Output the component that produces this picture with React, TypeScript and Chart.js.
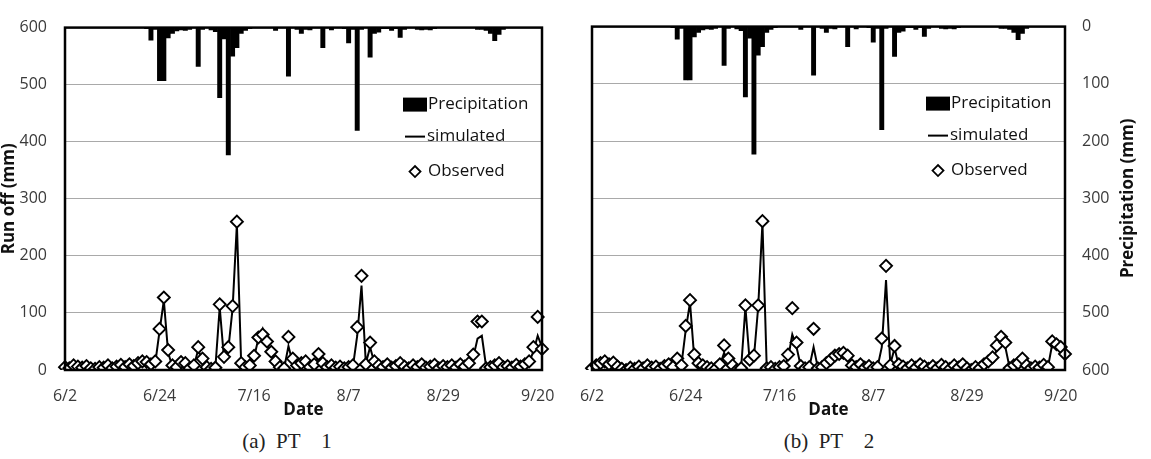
import React, { useEffect, useRef } from 'react';
import { Chart, registerables } from 'chart.js';

Chart.register(...registerables);

const FONT = '"Open Sans", "DejaVu Sans", sans-serif';

// Daily record from 2 June to 21 September
const dates: string[] = Array.from({ length: 112 }, (_, i) => {
  const d = new Date(2017, 5, 2 + i);
  return `${d.getMonth() + 1}/${d.getDate()}`;
});
const labelledDates = ['6/2', '6/24', '7/16', '8/7', '8/29', '9/20'];

// Daily precipitation (mm), shared by both plots
const precipitation = [
  0, 0, 0, 0, 0, 0, 0, 0, 0, 0,
  0, 0, 0, 0, 0, 0, 0, 0, 0, 2,
  22, 3, 93, 93, 18, 10, 6, 4, 5, 3,
  0, 68, 3, 0, 4, 7, 123, 20, 223, 50,
  35, 10, 5, 2, 0, 0, 0, 0, 0, 5,
  0, 0, 85, 0, 3, 10, 3, 4, 0, 0,
  35, 0, 4, 0, 0, 2, 27, 3, 180, 3,
  0, 52, 10, 8, 2, 2, 5, 2, 17, 3,
  0, 0, 3, 4, 3, 4, 2, 0, 0, 0,
  0, 0, 0, 0, 0, 0, 3, 3, 5, 10,
  23, 12, 3, 0, 0, 0, 0, 0, 0, 0,
  0, 0,
];

// PT 1 run off (mm)
const observedPT1 = [
  5, 3, 8, 6, 4, 7, 3, 2, 5, 4,
  8, 3, 6, 9, 5, 10, 7, 12, 15, 14,
  10, 15, 72, 127, 35, 8, 5, 14, 12, 3,
  8, 40, 20, 5, 2, 4, 115, 23, 40, 112,
  260, 12, 5, 8, 25, 57, 62, 50, 32, 15,
  5, 3, 58, 20, 8, 12, 15, 5, 10, 28,
  12, 5, 8, 4, 6, 3, 5, 8, 75, 165,
  10, 48, 15, 8, 5, 10, 4, 7, 12, 6,
  3, 8, 5, 10, 4, 6, 9, 3, 7, 5,
  8, 4, 10, 6, 12, 27, 85, 85, 3, 5,
  8, 12, 5, 7, 4, 9, 6, 10, 15, 40,
  93, 37,
];
const simulatedPT1 = [
  6, 4, 7, 5, 5, 6, 4, 3, 5, 5,
  7, 4, 6, 8, 6, 9, 8, 11, 13, 12,
  10, 12, 68, 122, 30, 6, 6, 12, 10, 4,
  7, 36, 16, 5, 3, 5, 110, 20, 36, 108,
  256, 10, 5, 8, 22, 55, 72, 45, 28, 12,
  5, 3, 42, 12, 6, 10, 12, 5, 9, 22,
  10, 5, 7, 4, 5, 3, 5, 6, 60, 148,
  12, 40, 12, 7, 5, 8, 4, 6, 10, 6,
  3, 7, 5, 8, 4, 6, 8, 3, 6, 5,
  7, 4, 9, 6, 10, 22, 55, 60, 6, 5,
  7, 10, 5, 6, 4, 8, 6, 9, 14, 32,
  60, 40,
];

// PT 2 run off (mm)
const observedPT2 = [
  3, 8, 12, 15, 10, 13, 6, 2, 0, 4,
  2, 6, 3, 8, 4, 6, 2, 7, 10, 5,
  20, 8, 77, 122, 27, 12, 8, 5, 3, 2,
  10, 43, 20, 8, 0, 3, 113, 18, 25, 113,
  260, 3, 5, 2, 5, 7, 27, 108, 48, 7,
  3, 5, 72, 3, 5, 12, 18, 25, 28, 30,
  25, 8, 5, 10, 4, 7, 3, 5, 55, 182,
  8, 42, 10, 6, 3, 8, 4, 10, 6, 2,
  7, 3, 9, 5, 2, 8, 4, 10, 3, 0,
  5, 3, 10, 15, 22, 43, 58, 48, 3, 8,
  12, 20, 8, 3, 6, 4, 9, 5, 50, 45,
  40, 28,
];
const simulatedPT2 = [
  4, 7, 10, 12, 10, 11, 6, 3, 2, 4,
  3, 5, 4, 7, 4, 5, 3, 6, 8, 6,
  15, 10, 70, 118, 20, 10, 7, 5, 3, 3,
  8, 30, 15, 6, 1, 4, 110, 15, 22, 110,
  257, 5, 4, 3, 4, 6, 20, 62, 40, 6,
  3, 5, 40, 4, 5, 10, 15, 20, 25, 27,
  20, 6, 5, 8, 4, 6, 3, 5, 40, 157,
  10, 38, 8, 6, 3, 7, 4, 8, 6, 3,
  6, 3, 8, 5, 3, 7, 4, 8, 3, 2,
  5, 3, 8, 12, 18, 35, 55, 40, 4, 7,
  10, 16, 7, 3, 5, 4, 8, 5, 45, 38,
  42, 30,
];

const GRID = '#a9a9a9';
const TICK_COLOR = '#3a3a3a';

type PanelProps = {
  observed: number[];
  simulated: number[];
  axisSide: 'left' | 'right';
  left: number;
  width: number;
  padLeft: number;
  padRight: number;
};

function Panel(p: PanelProps) {
  const ref = useRef<HTMLCanvasElement>(null);

  useEffect(() => {
    const isLeft = p.axisSide === 'left';

    // Frame, legend and rotated axis titles
    const decorations = {
      id: 'decorations',
      afterDatasetsDraw(chart: any) {
        const { ctx, chartArea: a } = chart;
        ctx.save();
        ctx.strokeStyle = '#000';
        ctx.lineWidth = 2.5;
        ctx.strokeRect(a.left, a.top, a.right - a.left, a.bottom - a.top);

        const ds = chart.data.datasets;
        const find = (t: string) => ds.find((d: any) => d.legendKind === t);
        const x0 = a.right - 139;
        ctx.font = `17px ${FONT}`;
        ctx.textBaseline = 'middle';
        ctx.textAlign = 'left';

        // bar entry
        let y = a.top + 77;
        ctx.fillStyle = '#000';
        ctx.fillRect(x0, y - 7, 24, 14);
        ctx.fillStyle = '#111';
        ctx.fillText(find('bar').label, x0 + 25, y);

        // line entry
        y = a.top + 109;
        ctx.beginPath();
        ctx.moveTo(x0 + 2, y);
        ctx.lineTo(x0 + 22, y);
        ctx.lineWidth = 2;
        ctx.strokeStyle = '#000';
        ctx.stroke();
        ctx.fillText(find('line').label, x0 + 24, y);

        // marker entry
        y = a.top + 144;
        const cx = x0 + 12;
        const r = 5.5;
        ctx.beginPath();
        ctx.moveTo(cx - r, y);
        ctx.lineTo(cx, y - r);
        ctx.lineTo(cx + r, y);
        ctx.lineTo(cx, y + r);
        ctx.closePath();
        ctx.fillStyle = '#fff';
        ctx.fill();
        ctx.lineWidth = 1.8;
        ctx.stroke();
        ctx.fillStyle = '#111';
        ctx.fillText(find('marker').label, x0 + 25, y);

        // rotated axis title, reading upwards
        ctx.font = `bold 17px ${FONT}`;
        ctx.fillStyle = '#111';
        ctx.textAlign = 'center';
        const tx = isLeft ? 9 : a.right + 63;
        ctx.translate(tx, (a.top + a.bottom) / 2);
        ctx.rotate(-Math.PI / 2);
        ctx.fillText(isLeft ? 'Run off (mm)' : 'Precipitation (mm)', 0, 0);
        ctx.restore();
      },
    };

    const chart = new Chart(ref.current as HTMLCanvasElement, {
      type: 'bar',
      data: {
        labels: dates,
        datasets: [
          {
            type: 'line',
            label: 'Observed',
            legendKind: 'marker',
            data: p.observed,
            yAxisID: 'y',
            showLine: false,
            pointStyle: 'rectRot',
            pointRadius: 6,
            pointBackgroundColor: '#fff',
            pointBorderColor: '#000',
            pointBorderWidth: 1.9,
            order: 0,
          } as any,
          {
            type: 'line',
            label: 'simulated',
            legendKind: 'line',
            data: p.simulated,
            yAxisID: 'y',
            borderColor: '#000',
            borderWidth: 2,
            pointRadius: 0,
            tension: 0,
            order: 1,
          } as any,
          {
            type: 'bar',
            label: 'Precipitation',
            legendKind: 'bar',
            data: precipitation,
            yAxisID: 'y1',
            backgroundColor: '#000',
            barPercentage: 1,
            categoryPercentage: 1,
            order: 2,
          } as any,
        ],
      },
      options: {
        animation: false,
        responsive: false,
        events: [],
        layout: { padding: { left: p.padLeft, right: p.padRight, top: 9, bottom: 0 } },
        plugins: { legend: { display: false }, tooltip: { enabled: false } },
        scales: {
          x: {
            type: 'category',
            offset: false,
            grid: { display: false },
            border: { display: false },
            ticks: {
              autoSkip: false,
              maxRotation: 0,
              minRotation: 0,
              padding: 9,
              color: TICK_COLOR,
              font: { family: FONT, size: 16 },
              callback: (_v: any, i: number) => (labelledDates.includes(dates[i]) ? dates[i] : ''),
            },
            title: {
              display: true,
              text: 'Date',
              color: '#111',
              padding: { top: 0, bottom: 0 },
              font: { family: FONT, size: 17, weight: 'bold' },
            },
            afterFit: (axis: any) => {
              axis.height = 50;
            },
          },
          y: {
            type: 'linear',
            display: isLeft,
            position: 'left',
            min: 0,
            max: 600,
            grid: { color: GRID, lineWidth: 1, drawTicks: false },
            border: { display: false },
            ticks: {
              stepSize: 100,
              padding: 18,
              color: TICK_COLOR,
              font: { family: FONT, size: 16 },
            },
            afterFit: (axis: any) => {
              if (isLeft) axis.width = 65;
            },
          },
          y1: {
            type: 'linear',
            display: !isLeft,
            position: 'right',
            reverse: true,
            min: 0,
            max: 600,
            grid: { color: GRID, lineWidth: 1, drawTicks: false },
            border: { display: false },
            ticks: {
              stepSize: 100,
              padding: 17,
              color: TICK_COLOR,
              font: { family: FONT, size: 16 },
            },
            afterFit: (axis: any) => {
              if (!isLeft) axis.width = 72;
            },
          },
        },
      } as any,
      plugins: [decorations],
    });
    return () => chart.destroy();
  }, []);

  return (
    <canvas
      ref={ref}
      width={p.width}
      height={420}
      style={{ position: 'absolute', left: p.left, top: 0, width: p.width, height: 420 }}
    />
  );
}

export default function App() {
  const caption: React.CSSProperties = {
    position: 'absolute',
    top: 429,
    width: 260,
    textAlign: 'center',
    fontFamily: '"Liberation Serif", "DejaVu Serif", serif',
    fontSize: 21,
    color: '#222',
    whiteSpace: 'pre',
  };
  return (
    <div
      style={{
        position: 'absolute',
        left: 0,
        top: 0,
        width: 1151,
        height: 459,
        background: '#fff',
        overflow: 'hidden',
      }}
    >
      <Panel
        observed={observedPT1}
        simulated={simulatedPT1}
        axisSide="left"
        left={0}
        width={560}
        padLeft={0}
        padRight={18}
      />
      <Panel
        observed={observedPT2}
        simulated={simulatedPT2}
        axisSide="right"
        left={570}
        width={567}
        padLeft={22}
        padRight={0}
      />
      <div style={{ ...caption, left: 287 - 130 }}>{'(a)  PT    1'}</div>
      <div style={{ ...caption, left: 829 - 130 }}>{'(b)  PT    2'}</div>
    </div>
  );
}
